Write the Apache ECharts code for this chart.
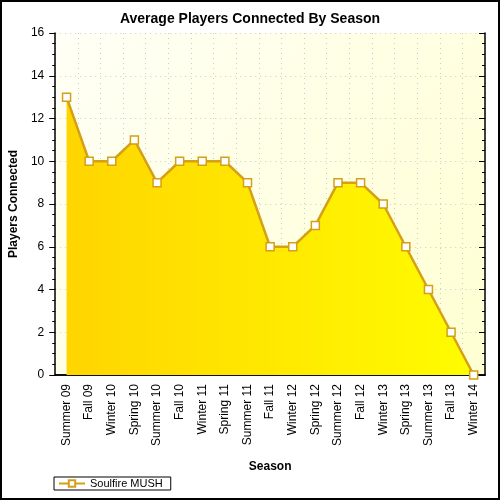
<!DOCTYPE html>
<html>
<head>
<meta charset="utf-8">
<script src="https://cdn.jsdelivr.net/npm/echarts@6/dist/echarts.min.js"></script>
<style>
  html, body { margin: 0; padding: 0; background: #fff; }
  #chart { width: 500px; height: 500px; }
</style>
</head>
<body>
<div id="chart"></div>
<script>
// 赛季数据
var seasons = ['Summer 09', 'Fall 09', 'Winter 10', 'Spring 10', 'Summer 10', 'Fall 10', 'Winter 11',
    'Spring 11', 'Summer 11', 'Fall 11', 'Winter 12', 'Spring 12', 'Summer 12', 'Fall 12',
    'Winter 13', 'Spring 13', 'Summer 13', 'Fall 13', 'Winter 14'];
var players = [13, 10, 10, 11, 9, 10, 10, 10, 9, 6, 6, 7, 9, 9, 8, 6, 4, 2, 0];
var seriesName = 'Soulfire MUSH';

var myChart = echarts.init(document.getElementById('chart'));
var font = 'Liberation Sans, Arial, sans-serif';

var option = {
    animation: false,
    title: {
        text: 'Average Players Connected By Season',
        left: 'center',
        top: 7,
        textStyle: { fontFamily: font, fontSize: 14, fontWeight: 'bold', color: '#000' }
    },
    legend: {
        data: [seriesName],
        left: 54,
        top: 477,
        padding: [1, 8, 1, 4],
        borderColor: '#000',
        borderWidth: 1,
        itemWidth: 26,
        itemHeight: 8,
        itemGap: 4,
        textStyle: { fontFamily: font, fontSize: 11, color: '#000' }
    },
    grid: {
        left: 53, top: 33, right: 15, bottom: 125,
        show: true,
        borderWidth: 0,
        backgroundColor: new echarts.graphic.LinearGradient(0, 0, 1, 1, [
            { offset: 0, color: '#fffff6' },
            { offset: 1, color: '#ffffd2' }
        ])
    },
    xAxis: [{
        type: 'category',
        data: seasons,
        boundaryGap: true,
        name: 'Season',
        nameLocation: 'middle',
        nameGap: 86,
        nameTextStyle: { fontFamily: font, fontSize: 12, fontWeight: 'bold', color: '#000' },
        axisLine: { lineStyle: { color: '#000', width: 1.5 } },
        axisTick: { alignWithLabel: true, length: 5, lineStyle: { color: '#000' } },
        axisLabel: { rotate: 90, interval: 0, fontFamily: font, fontSize: 12, color: '#000', margin: 9 },
        splitLine: { show: true, interval: 0, lineStyle: { color: '#cccccc', type: [1, 4] } }
    }, {
        type: 'category',
        data: seasons,
        position: 'top',
        boundaryGap: true,
        axisLine: { lineStyle: { color: '#000', width: 1.5 } },
        axisTick: { alignWithLabel: true, inside: true, length: 5, lineStyle: { color: '#000' } },
        axisLabel: { show: false },
        splitLine: { show: false }
    }],
    yAxis: [{
        type: 'value',
        min: 0, max: 16, interval: 2,
        name: 'Players Connected',
        nameLocation: 'middle',
        nameGap: 30,
        nameTextStyle: { fontFamily: font, fontSize: 12, fontWeight: 'bold', color: '#000' },
        axisLine: { show: true, lineStyle: { color: '#000', width: 1.5 } },
        axisTick: { show: true, length: 6, lineStyle: { color: '#000' } },
        minorTick: { show: true, splitNumber: 4, length: 3, lineStyle: { color: '#000' } },
        axisLabel: { fontFamily: font, fontSize: 12, color: '#000', margin: 11 },
        splitLine: { show: true, lineStyle: { color: '#cccccc', type: [1, 4] } }
    }, {
        type: 'value',
        min: 0, max: 16, interval: 2,
        position: 'right',
        axisLine: { show: true, lineStyle: { color: '#000', width: 1.5 } },
        axisTick: { show: true, inside: true, length: 6, lineStyle: { color: '#000' } },
        minorTick: { show: true, splitNumber: 4, length: 3, lineStyle: { color: '#000' } },
        axisLabel: { show: false },
        splitLine: { show: false }
    }],
    series: [{
        name: seriesName,
        type: 'line',
        data: players,
        symbol: 'rect',
        symbolSize: 8,
        itemStyle: { color: '#ffffff', borderColor: '#d4a017', borderWidth: 1.5 },
        lineStyle: { color: '#d4a017', width: 2.5 },
        areaStyle: {
            opacity: 1,
            color: new echarts.graphic.LinearGradient(0, 0, 1, 0, [
                { offset: 0, color: '#ffd500' },
                { offset: 1, color: '#fffc00' }
            ])
        }
    }],
    graphic: [{
        type: 'rect',
        shape: { x: 1, y: 1, width: 498, height: 498 },
        style: { fill: 'none', stroke: '#000', lineWidth: 2 },
        silent: true
    }]
};
myChart.setOption(option);
</script>
</body>
</html>
